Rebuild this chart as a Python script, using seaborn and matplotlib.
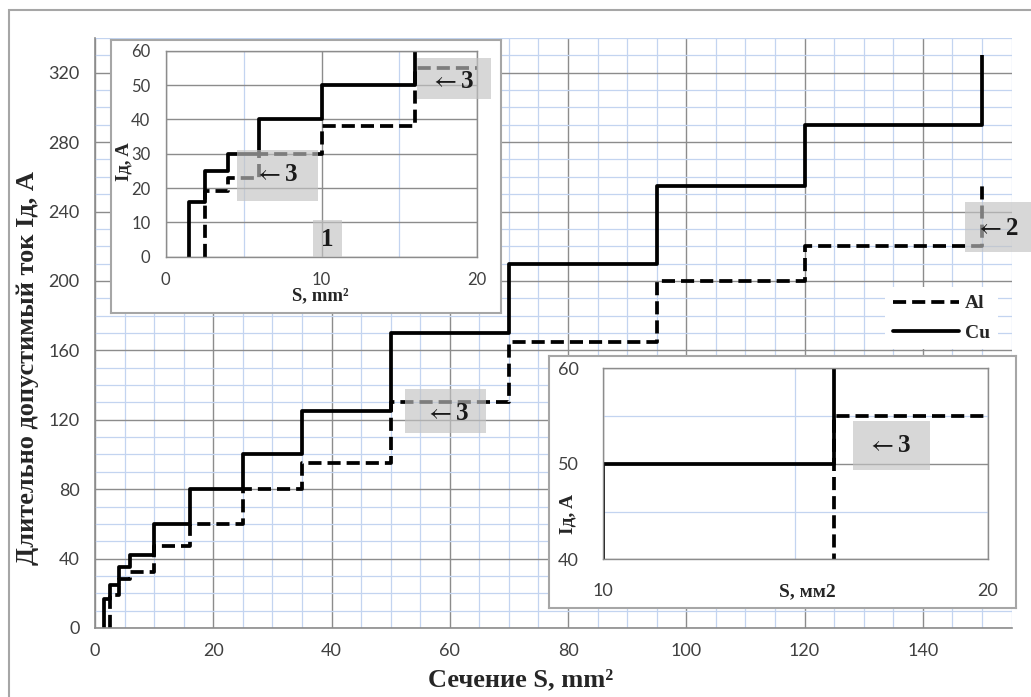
import numpy as np
import pandas as pd
import matplotlib
matplotlib.use("Agg")
import matplotlib.pyplot as plt
from matplotlib.ticker import MultipleLocator, FixedLocator, NullFormatter
from matplotlib.patches import Rectangle
from matplotlib.lines import Line2D
import seaborn as sns

# Permissible continuous current vs. conductor cross-section
cu_section = [1.5, 2.5, 4, 6, 10, 16, 25, 35, 50, 70, 95, 120, 150]
cu_current = [17, 25, 35, 42, 60, 80, 100, 125, 170, 210, 255, 290, 330]
al_section = [2.5, 4, 6, 10, 16, 25, 35, 50, 70, 95, 120, 150]
al_current = [19, 28, 32, 47, 60, 80, 95, 130, 165, 200, 220, 255]

# Small-section detail shown in the insets
inset_cu_section = [1.5, 2.5, 4, 6, 10, 16]
inset_cu_current = [16, 25, 30, 40, 50, 70]
inset_al_section = [2.5, 4, 6, 10, 16, 25]
inset_al_current = [19, 23, 30, 38, 55, 70]

main_xticks = [0, 20, 40, 60, 80, 100, 120, 140]
main_yticks = [0, 40, 80, 120, 160, 200, 240, 280, 320]

sns.set_style("white")
plt.rcParams["font.family"] = ["Lato", "DejaVu Sans"]

SERIF = ["Liberation Serif", "DejaVu Serif"]
TICK_COLOR = "#404040"
MAJOR_GRID = "#8c8c8c"
MINOR_GRID = "#c3d4f0"
FRAME = "#a6a6a6"
DASH = (0, (3.5, 1.6))
LW = 2.7

W, H = 1031, 697
fig = plt.figure(figsize=(W / 100, H / 100), dpi=100)


def px_rect(x0, y0, x1, y1):
    """Figure-fraction rectangle from pixel corners (origin top-left)."""
    return [x0 / W, 1 - y1 / H, (x1 - x0) / W, (y1 - y0) / H]


def step_frame(section, current):
    return pd.DataFrame({"S": [section[0]] + list(section),
                         "I": [0] + list(current)})


def draw_steps(ax, section, current, dashed):
    sns.lineplot(data=step_frame(section, current), x="S", y="I", ax=ax,
                 estimator=None, sort=False, drawstyle="steps-post",
                 color="black", linewidth=LW,
                 linestyle=DASH if dashed else "-",
                 dash_capstyle="butt", solid_capstyle="butt",
                 legend=False, zorder=2)


def style_grid(ax, xmaj, xmin, ymaj, ymin, ticksize):
    ax.set_axisbelow(True)
    ax.xaxis.set_major_locator(xmaj)
    ax.yaxis.set_major_locator(ymaj)
    if xmin is not None:
        ax.xaxis.set_minor_locator(xmin)
    if ymin is not None:
        ax.yaxis.set_minor_locator(ymin)
    ax.grid(True, which="major", color=MAJOR_GRID, linewidth=1.0)
    ax.grid(True, which="minor", color=MINOR_GRID, linewidth=0.9)
    ax.tick_params(which="major", direction="out", length=5, width=1,
                   color=MAJOR_GRID, labelcolor=TICK_COLOR,
                   labelsize=ticksize, pad=6)
    ax.tick_params(which="minor", length=0)
    ax.xaxis.set_minor_formatter(NullFormatter())
    ax.yaxis.set_minor_formatter(NullFormatter())


def gray_box(ax, x0, x1, y0, y1, text, tx, ty, size=18, ha="center"):
    ax.add_patch(Rectangle((x0, y0), x1 - x0, y1 - y0, facecolor="#c2c2c2",
                           alpha=0.65, edgecolor="none", zorder=3,
                           clip_on=False))
    ax.text(tx, ty, text, ha=ha, va="center", fontsize=size,
            fontweight="bold", family=SERIF, math_fontfamily="stix",
            color="#1a1a1a", zorder=4, clip_on=False)


ARROW = r"$\leftarrow$"

# ---------------- main chart ----------------
ax = fig.add_axes(px_rect(95, 38, 1011.5, 628))
draw_steps(ax, al_section, al_current, dashed=True)
draw_steps(ax, cu_section, cu_current, dashed=False)
ax.set_xlim(0, 155)
ax.set_ylim(0, 340)
style_grid(ax, FixedLocator(main_xticks), MultipleLocator(5),
           FixedLocator(main_yticks), MultipleLocator(10), 13)
for side in ("top", "right"):
    ax.spines[side].set_visible(False)
for side in ("left", "bottom"):
    ax.spines[side].set_color(MAJOR_GRID)
    ax.spines[side].set_linewidth(1.2)

ax.set_xlabel("Сечение S, mm²", fontsize=19, fontweight="bold", family=SERIF)
ax.xaxis.set_label_coords(0.464, -0.088)
ax.xaxis.label.set_va("center")
ax.set_ylabel("Длительно допустимый ток Iд, А", fontsize=19,
              fontweight="bold", family=SERIF)
ax.yaxis.set_label_coords(-0.074, 0.44)
ax.yaxis.label.set_va("center")

gray_box(ax, 52.5, 66.2, 112.2, 137.6, ARROW + "3", 59.5, 123.5)
gray_box(ax, 147.1, 158.3, 216.6, 245.4, ARROW + "2", 152.5, 230.5,
         ha="center")

handles = [Line2D([], [], color="black", lw=LW, linestyle=DASH,
                  dash_capstyle="butt"),
           Line2D([], [], color="black", lw=LW)]
leg = ax.legend(handles, ["Al", "Cu"], loc="upper left",
                bbox_to_anchor=(885 / W, 1 - 287 / H),
                bbox_transform=fig.transFigure, borderaxespad=0,
                borderpad=0.4, handlelength=3.4, handletextpad=0.3,
                labelspacing=0.6, frameon=True, fancybox=False,
                facecolor="white", edgecolor="none", framealpha=1,
                prop={"family": SERIF, "weight": "bold", "size": 14})

# ---------------- inset 1: 0..20 mm² ----------------
fr1 = fig.add_axes(px_rect(110.7, 40, 501, 313))
fr1.set_xticks([])
fr1.set_yticks([])
for s in fr1.spines.values():
    s.set_color(FRAME)
    s.set_linewidth(1.5)
fr1.set_facecolor("white")

ax1 = fig.add_axes(px_rect(165.7, 50.7, 477.3, 256.7))
draw_steps(ax1, inset_al_section, inset_al_current, dashed=True)
draw_steps(ax1, inset_cu_section, inset_cu_current, dashed=False)
ax1.set_xlim(0, 20)
ax1.set_ylim(0, 60)
style_grid(ax1, MultipleLocator(10), MultipleLocator(5),
           MultipleLocator(10), None, 12)
for s in ax1.spines.values():
    s.set_color(MAJOR_GRID)
    s.set_linewidth(1.0)
ax1.set_xlabel("S, mm²", fontsize=13.5, fontweight="bold", family=SERIF)
ax1.xaxis.set_label_coords(0.495, -0.19)
ax1.xaxis.label.set_va("center")
ax1.set_ylabel("Iд, A", fontsize=13.5, fontweight="bold", family=SERIF)
ax1.yaxis.set_label_coords(-0.135, 0.46)
ax1.yaxis.label.set_va("center")

gray_box(ax1, 4.6, 9.75, 16.3, 31.1, ARROW + "3", 7.1, 23.8)
gray_box(ax1, 16.1, 20.85, 45.8, 58.0, ARROW + "3", 18.35, 51.0)
gray_box(ax1, 9.48, 11.3, 0, 10.7, "1", 10.35, 5.0, size=18)

# ---------------- inset 2: 10..20 mm² ----------------
fr2 = fig.add_axes(px_rect(549, 356, 1015.5, 608))
fr2.set_xticks([])
fr2.set_yticks([])
for s in fr2.spines.values():
    s.set_color(FRAME)
    s.set_linewidth(1.5)
fr2.set_facecolor("white")

ax2 = fig.add_axes(px_rect(602.7, 368.3, 987.7, 559.3))
draw_steps(ax2, inset_al_section, inset_al_current, dashed=True)
draw_steps(ax2, inset_cu_section, inset_cu_current, dashed=False)
ax2.set_xlim(10, 20)
ax2.set_ylim(40, 60)
style_grid(ax2, MultipleLocator(10), MultipleLocator(5),
           MultipleLocator(10), MultipleLocator(5), 13)
for s in ax2.spines.values():
    s.set_color(MAJOR_GRID)
    s.set_linewidth(1.0)
ax2.tick_params(which="major", pad=12)
ax2.set_xlabel("S, мм2", fontsize=14, fontweight="bold", family=SERIF)
ax2.xaxis.set_label_coords(0.532, -0.17)
ax2.xaxis.label.set_va("center")
ax2.set_ylabel("Iд, A", fontsize=14, fontweight="bold", family=SERIF)
ax2.yaxis.set_label_coords(-0.09, 0.24)
ax2.yaxis.label.set_va("center")

gray_box(ax2, 16.5, 18.5, 49.4, 54.5, ARROW + "3", 17.45, 51.9)

# outer chart border
fig.add_artist(Rectangle((9 / W, -0.1), 1.2, 1 - 10 / H + 0.1,
                         transform=fig.transFigure, fill=False,
                         edgecolor=FRAME, linewidth=1.5))

fig.savefig("out.png", dpi=100, facecolor="white")
